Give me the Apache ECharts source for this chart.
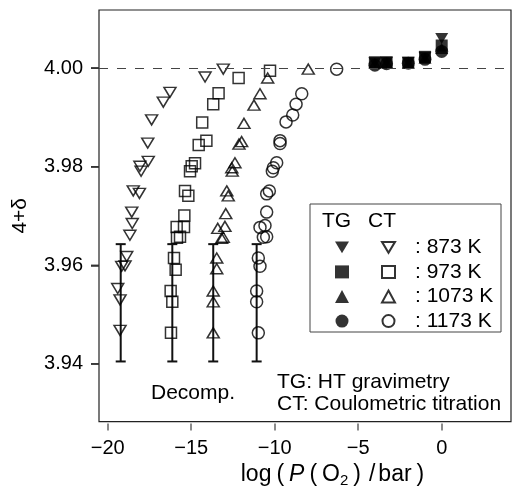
<!DOCTYPE html>
<html>
<head>
<meta charset="utf-8">
<script src="https://cdn.jsdelivr.net/npm/echarts@6/dist/echarts.min.js"></script>
<style>
  html, body { margin: 0; padding: 0; background: #fff; }
  #chart { width: 513px; height: 493px; }
</style>
</head>
<body>
<div id="chart"></div>
<script>
// 坐标轴刻度
const xTicks = [-20, -15, -10, -5, 0];
const yTicks = [3.94, 3.96, 3.98, 4.00];

// CT (coulometric titration) - open symbols
const ct873 = [[-13.08, 3.9998], [-14.17, 3.9982], [-16.27, 3.9951], [-16.67, 3.9931], [-17.37, 3.9895],
  [-17.6, 3.9848], [-17.57, 3.9811], [-18.07, 3.9801], [-18.0, 3.9791], [-18.47, 3.9751], [-18.1, 3.9746],
  [-18.56, 3.9708], [-18.53, 3.9685], [-18.67, 3.9661], [-18.86, 3.9618], [-19.16, 3.9598], [-18.96, 3.9599],
  [-19.4, 3.9553], [-19.26, 3.953], [-19.26, 3.9468]];
const ct973 = [[-10.28, 3.9995], [-12.16, 3.998], [-13.36, 3.9949], [-13.68, 3.9927], [-14.34, 3.989],
  [-14.09, 3.9853], [-14.55, 3.9844], [-14.77, 3.9807], [-14.97, 3.9801], [-15.07, 3.9791], [-15.37, 3.9751],
  [-15.17, 3.9741], [-15.41, 3.9701], [-15.87, 3.9678], [-15.43, 3.9678], [-15.67, 3.9658], [-15.85, 3.9656],
  [-16.03, 3.9615], [-15.93, 3.9591], [-16.23, 3.9548], [-16.13, 3.9526], [-16.21, 3.9463]];
const ct1073 = [[-7.99, 3.9998], [-10.42, 3.998], [-10.88, 3.9948], [-11.24, 3.9925], [-11.84, 3.9888],
  [-11.98, 3.9851], [-12.14, 3.9846], [-12.38, 3.9808], [-12.57, 3.9798], [-12.54, 3.9791], [-12.87, 3.9751],
  [-12.78, 3.9741], [-12.93, 3.9705], [-12.98, 3.9679], [-13.41, 3.9675], [-13.08, 3.9657], [-13.18, 3.9655],
  [-13.47, 3.9615], [-13.47, 3.9593], [-13.68, 3.9548], [-13.68, 3.9526], [-13.68, 3.9463]];
const ct1173 = [[-6.29, 3.9998], [-8.38, 3.9948], [-8.72, 3.9927], [-8.92, 3.9905], [-9.32, 3.9891],
  [-9.68, 3.9853], [-9.68, 3.9847], [-9.88, 3.9808], [-10.08, 3.9798], [-10.14, 3.9791], [-10.32, 3.9751],
  [-10.48, 3.9745], [-10.48, 3.9708], [-10.58, 3.9681], [-10.88, 3.9677], [-10.68, 3.9657], [-10.48, 3.9658],
  [-10.98, 3.9615], [-10.88, 3.9598], [-11.08, 3.9548], [-11.08, 3.9526], [-10.98, 3.9463]];

// TG (HT gravimetry) - filled symbols
const tgX = [-4.0, -3.3, -2.0, -1.0, 0.0];
const tg873 = [4.0011, 4.0012, 4.0012, 4.0022, 4.0060];
const tg973 = [4.0012, 4.0012, 4.0011, 4.0023, 4.0046];
const tg1073 = [4.0010, 4.0011, 4.0010, 4.0020, 4.0040];
const tg1173 = [4.0006, 4.0009, 4.0010, 4.0018, 4.0034];

// 分解区域误差棒
const errX = [-19.22, -16.13, -13.68, -11.08];
const errLow = [3.9405, 3.9405, 3.9405, 3.9405];
const errHigh = [3.9643, 3.9643, 3.9643, 3.9643];

const FONT = "'Liberation Sans', Arial, sans-serif";
const DOWN = "path://M0,0L12,0L6,10Z";

const chart = echarts.init(document.getElementById("chart"));

function scatter(name, data, symbol, rotate, filled, size) {
  return {
    name: name,
    type: "scatter",
    data: data,
    symbol: symbol,
    symbolRotate: rotate,
    symbolSize: size,
    itemStyle: {
      color: filled ? "#000" : "rgba(0,0,0,0)",
      borderColor: "#000",
      borderWidth: filled ? 0 : 1.5
    },
    emphasis: { disabled: true }
  };
}

const zipTG = ys => tgX.map((x, i) => [x, ys[i]]);

const txt = { fontSize: 21, fontFamily: FONT, color: "#000" };

const option = {
  animation: false,
  grid: {
    left: 99, right: 2, top: 10, bottom: 65,
    show: true, borderColor: "#222", borderWidth: 1.2, backgroundColor: "transparent"
  },
  xAxis: {
    type: "value",
    min: -20.52, max: 4.15,
    offset: 2,
    axisLine: { show: false, onZero: false },
    splitLine: { show: false },
    axisTick: { customValues: xTicks, length: 7, lineStyle: { color: "#666", width: 1.5 } },
    axisLabel: {
      customValues: xTicks, margin: 15, color: "#000", fontSize: 20, fontFamily: FONT,
      formatter: v => String(v).replace("-", "\u2212")
    },
    name: "{a|log}{p|(}{i|P}{p|(}{a|O}{s|2}{p|)}{q|/}{a|bar}{p|)}",
    nameLocation: "middle",
    nameGap: 37,
    nameTextStyle: {
      padding: [0, 0, 0, 60],
      rich: {
        a: { fontSize: 23, fontFamily: FONT, color: "#000" },
        p: { fontSize: 23, fontFamily: FONT, color: "#000", padding: [0, 5, 0, 5] },
        q: { fontSize: 23, fontFamily: FONT, color: "#000", padding: [0, 3, 0, 3] },
        i: { fontSize: 23, fontFamily: FONT, color: "#000", fontStyle: "italic" },
        s: { fontSize: 15, fontFamily: FONT, color: "#000", padding: [11, 0, 0, 0] }
      }
    }
  },
  yAxis: {
    type: "value",
    min: 3.9283, max: 4.0118,
    axisLine: { show: false, onZero: false },
    splitLine: { show: false },
    axisTick: { show: true, customValues: yTicks, length: 8, lineStyle: { color: "#333", width: 1.5 } },
    axisLabel: {
      customValues: yTicks, margin: 16, color: "#000", fontSize: 20, fontFamily: FONT,
      formatter: v => v.toFixed(2)
    },
    name: "4+\u03b4",
    nameLocation: "middle",
    nameGap: 68,
    nameTextStyle: { fontSize: 21, fontFamily: FONT, color: "#000" }
  },
  legend: [
    {
      data: [{ name: "TG 873 K", icon: DOWN }, { name: "TG 973 K" }, { name: "TG 1073 K" }, { name: "TG 1173 K" }],
      orient: "vertical", left: 330, top: 230,
      itemWidth: 14, itemHeight: 13, itemGap: 0,
      selectedMode: false,
      formatter: () => " ",
      textStyle: Object.assign({ lineHeight: 24.6 }, txt)
    },
    {
      data: [{ name: "CT 873 K", icon: DOWN }, { name: "CT 973 K" }, { name: "CT 1073 K" }, { name: "CT 1173 K" }],
      orient: "vertical", left: 376, top: 230,
      itemWidth: 13, itemHeight: 12, itemGap: 0,
      selectedMode: false,
      formatter: n => ": " + n.slice(3),
      textStyle: Object.assign({ lineHeight: 24.6, padding: [0, 0, 0, 15] }, txt)
    }
  ],
  graphic: [
    { type: "rect", shape: { x: 310, y: 204, width: 191, height: 128 },
      style: { fill: "#fff", stroke: "#444", lineWidth: 1 }, z: -1 },
    { type: "text", x: 322, y: 221, style: { text: "TG", font: "21px " + FONT, fill: "#000", verticalAlign: "middle" } },
    { type: "text", x: 368, y: 221, style: { text: "CT", font: "21px " + FONT, fill: "#000", verticalAlign: "middle" } },
    { type: "text", x: 151, y: 393, style: { text: "Decomp.", font: "21px " + FONT, fill: "#000", verticalAlign: "middle" } },
    { type: "text", x: 277, y: 382, style: { text: "TG: HT gravimetry", font: "21px " + FONT, fill: "#000", verticalAlign: "middle" } },
    { type: "text", x: 277, y: 404, style: { text: "CT: Coulometric titration", font: "21px " + FONT, fill: "#000", verticalAlign: "middle" } }
  ],
  series: [
    {
      // y 轴刻度线（画在网格左侧外面）
      type: "custom",
      name: "yTickMarks",
      silent: true,
      clip: false,
      z: 5,
      data: yTicks.map(v => [0, v]),
      encode: { x: 0, y: 1 },
      renderItem: function (params, api) {
        const p = api.coord([api.value(0), api.value(1)]);
        const x0 = params.coordSys.x;
        return {
          type: "line",
          shape: { x1: x0 - 8, y1: p[1], x2: x0, y2: p[1] },
          style: { stroke: "#333", lineWidth: 1.5 }
        };
      }
    },
    {
      type: "custom",
      name: "Decomp.",
      data: errX.map((x, i) => [x, errLow[i], errHigh[i]]),
      encode: { x: 0, y: [1, 2] },
      renderItem: function (params, api) {
        const top = api.coord([api.value(0), api.value(2)]);
        const bot = api.coord([api.value(0), api.value(1)]);
        const st = { stroke: "#111", lineWidth: 2 };
        return {
          type: "group",
          children: [
            { type: "line", shape: { x1: top[0], y1: top[1], x2: bot[0], y2: bot[1] }, style: st },
            { type: "line", shape: { x1: top[0] - 5, y1: top[1], x2: top[0] + 5, y2: top[1] }, style: st },
            { type: "line", shape: { x1: bot[0] - 5, y1: bot[1], x2: bot[0] + 5, y2: bot[1] }, style: st }
          ]
        };
      },
      markLine: {
        silent: true,
        symbol: "none",
        label: { show: false },
        lineStyle: { type: [9, 9], color: "#444", width: 1.2 },
        data: [{ yAxis: 4.0 }]
      }
    },
    scatter("CT 873 K", ct873, "triangle", 180, false, [12, 10]),
    scatter("CT 973 K", ct973, "rect", 0, false, 11),
    scatter("CT 1073 K", ct1073, "triangle", 0, false, [12, 10]),
    scatter("CT 1173 K", ct1173, "circle", 0, false, 12),
    scatter("TG 1173 K", zipTG(tg1173), "circle", 0, true, 13),
    scatter("TG 1073 K", zipTG(tg1073), "triangle", 0, true, [13, 11]),
    scatter("TG 873 K", zipTG(tg873), "triangle", 180, true, [13, 11]),
    scatter("TG 973 K", zipTG(tg973), "rect", 0, true, 12)
  ]
};

chart.setOption(option);
</script>
</body>
</html>
